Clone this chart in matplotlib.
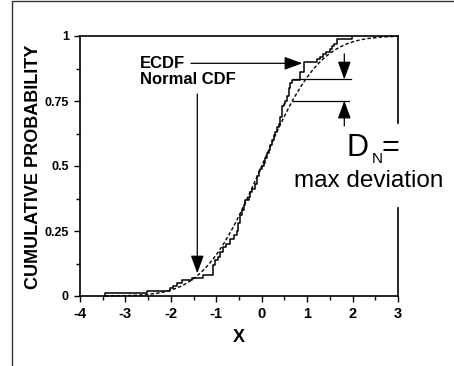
import math
import numpy as np
import matplotlib
matplotlib.use('Agg')
import matplotlib.pyplot as plt
from matplotlib.lines import Line2D
from matplotlib.ticker import MultipleLocator

# ---- data ----
ecdf_x = [-3.45, -2.53, -2.02, -1.95, -1.87, -1.76, -1.54, -1.30, -1.07, -1.02,
          -0.96, -0.92, -0.85, -0.78, -0.70, -0.60, -0.55, -0.52, -0.48, -0.43,
          -0.40, -0.37, -0.29, -0.25, -0.22, -0.15, -0.11, -0.07, -0.04, 0.00,
          0.04, 0.08, 0.11, 0.15, 0.18, 0.22, 0.26, 0.29, 0.33, 0.37,
          0.40, 0.44, 0.48, 0.51, 0.55, 0.59, 0.63, 0.66, 0.84, 0.92,
          1.21, 1.28, 1.35, 1.42, 1.50, 1.55, 1.60, 1.66, 1.98]
ecdf_y = [0.01, 0.02, 0.03, 0.04, 0.05, 0.06, 0.07, 0.08, 0.12, 0.14,
          0.15, 0.17, 0.19, 0.20, 0.22, 0.235, 0.25, 0.28, 0.31, 0.33,
          0.35, 0.37, 0.38, 0.40, 0.41, 0.43, 0.46, 0.48, 0.49, 0.50,
          0.51, 0.53, 0.55, 0.56, 0.58, 0.60, 0.62, 0.63, 0.65, 0.66,
          0.69, 0.73, 0.74, 0.75, 0.77, 0.80, 0.82, 0.83, 0.86, 0.90,
          0.91, 0.92, 0.93, 0.94, 0.95, 0.96, 0.97, 0.99, 1.00]
norm_mu = 0.0
norm_sigma = 1.0
norm_range = (-3.45, 3.0)
x_ticks = [-4, -3, -2, -1, 0, 1, 2, 3]
x_tick_labels = ['-4', '-3', '-2', '-1', '0', '1', '2', '3']
y_ticks = [0, 0.25, 0.5, 0.75, 1]
y_tick_labels = ['0', '0.25', '0.5', '0.75', '1']
dn_upper = 0.833
dn_lower = 0.751

plt.rcParams['font.family'] = ['Liberation Sans', 'DejaVu Sans']

W, H = 454, 366
fig = plt.figure(figsize=(W / 100, H / 100), dpi=100)
ax = fig.add_axes([80 / W, 1 - 296 / H, 318 / W, 260 / H])
ax.set_xlim(-4, 3)
ax.set_ylim(0, 1)

# ECDF step curve
xs = [ecdf_x[0]] + ecdf_x
ys = [0.0] + ecdf_y
ax.step(xs, ys, where='post', color='black', lw=1.1, clip_on=False, zorder=3)

# Normal CDF
xn = np.linspace(norm_range[0], norm_range[1], 400)
erf = np.vectorize(math.erf)
yn = 0.5 * (1 + erf((xn - norm_mu) / (norm_sigma * math.sqrt(2))))
ax.plot(xn, yn, color='black', lw=1.0, linestyle=(0, (2.5, 1.6)), clip_on=False, zorder=3)

# spines
for s in ['top', 'left', 'bottom']:
    ax.spines[s].set_linewidth(1.2)
ax.spines['right'].set_visible(False)
ax.add_line(Line2D([1, 1], [1, 0.665], transform=ax.transAxes, color='black', lw=1.2, clip_on=False))
ax.add_line(Line2D([1, 1], [0.338, 0], transform=ax.transAxes, color='black', lw=1.2, clip_on=False))

# ticks
ax.set_xticks(x_ticks)
ax.set_xticklabels(x_tick_labels, fontweight='bold', fontsize=10.5)
ax.set_yticks(y_ticks)
ax.set_yticklabels(y_tick_labels, fontweight='bold', fontsize=9)
ax.xaxis.set_minor_locator(MultipleLocator(0.5))
ax.yaxis.set_minor_locator(MultipleLocator(0.125))
ax.tick_params(which='major', direction='out', length=4.5, width=1.0, pad=3.5, top=False, right=False)
ax.tick_params(which='minor', direction='out', length=3, width=1.0, top=False, right=False)

# axis labels
ax.text(-0.147, 0.497, 'CUMULATIVE PROBABILITY', transform=ax.transAxes, rotation=90,
        ha='center', va='center', fontsize=13, fontweight='bold')
ax.text(0.5, -0.158, 'X', transform=ax.transAxes, ha='center', va='center',
        fontsize=13, fontweight='bold')

# annotations
arrow_kw = dict(arrowstyle='-|>,head_length=1.1,head_width=0.4', color='black', lw=0.9,
                mutation_scale=10, shrinkA=0, shrinkB=0)
ax.text(-2.68, 0.876, 'ECDF', fontsize=12, fontweight='bold', ha='left', va='baseline')
ax.text(-2.68, 0.815, 'Normal CDF', fontsize=12, fontweight='bold', ha='left', va='baseline')
ax.annotate('', xy=(0.894, 0.895), xytext=(-1.557, 0.895), arrowprops=arrow_kw, annotation_clip=False)
ax.annotate('', xy=(-1.418, 0.087), xytext=(-1.418, 0.777), arrowprops=arrow_kw, annotation_clip=False)

# D_N indicator
ax.plot([0.696, 1.957], [dn_upper, dn_upper], color='black', lw=0.9, clip_on=False)
ax.plot([0.696, 1.92], [dn_lower, dn_lower], color='black', lw=0.9, clip_on=False)
ax.annotate('', xy=(1.818, dn_upper), xytext=(1.818, 0.931), arrowprops=arrow_kw, annotation_clip=False)
ax.annotate('', xy=(1.818, dn_lower), xytext=(1.818, 0.654), arrowprops=arrow_kw, annotation_clip=False)

ax.text(1.877, 0.538, 'D', fontsize=22, ha='left', va='baseline')
ax.text(2.42, 0.512, 'N', fontsize=11, ha='left', va='baseline')
ax.text(2.64, 0.538, '=', fontsize=22, ha='left', va='baseline')
ax.text(0.70, 0.419, 'max deviation', fontsize=17.5, ha='left', va='baseline')

# figure border (left and top)
fig.add_artist(Line2D([12 / W, 12 / W, 1], [0, 1 - 1 / H, 1 - 1 / H],
                      transform=fig.transFigure, color='#333333', lw=1.0))

fig.savefig('out.png', dpi=100)
